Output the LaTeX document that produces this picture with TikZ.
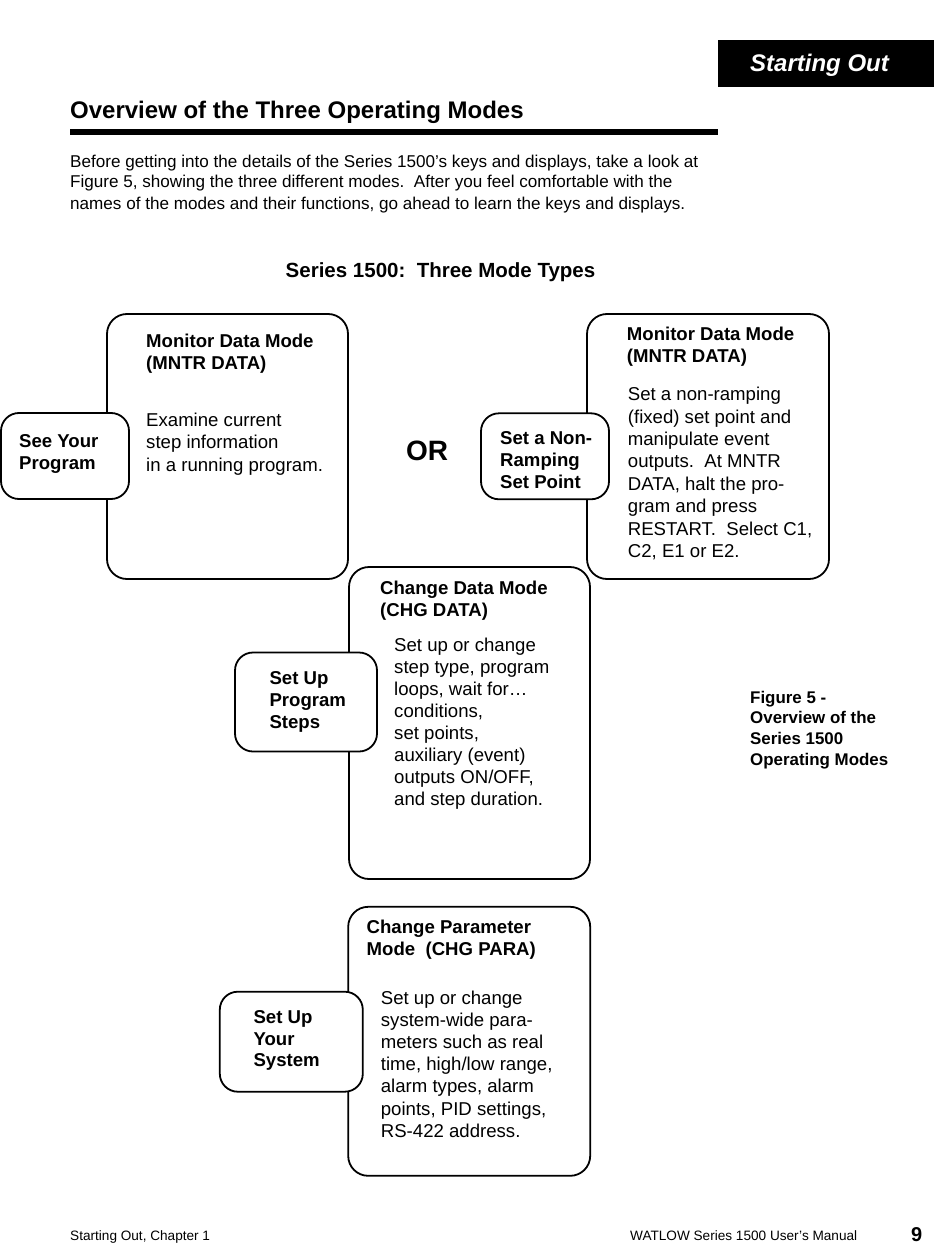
\documentclass[tikz,border=0pt]{standalone}
\usepackage{fontspec}
\setmainfont{Liberation Sans}
\tikzset{
  modebox/.style={draw, line width=1.8pt, rounded corners=20pt, inner sep=0pt},
  keybox/.style={draw, line width=1.8pt, rounded corners=18pt, fill=white, inner sep=0pt},
  boxtitle/.style={font=\bfseries\fontsize{18.6}{22}\selectfont, align=left, anchor=base west, inner sep=0pt},
  boxtext/.style={font=\fontsize{18.6}{22.2}\selectfont, align=left, anchor=base west, inner sep=0pt},
  keytext/.style={font=\bfseries\fontsize{18.6}{22}\selectfont, align=left, anchor=base west, inner sep=0pt},
}
\begin{document}
\begin{tikzpicture}[x=1pt,y=-1pt]
\useasboundingbox[fill=white] (0,0) rectangle (950,1260);

% page head (multi-line texts sit on their last baseline)
\node(tab)[fill=black, minimum width=216, minimum height=47, inner sep=0pt] at (826,63.5) {};
\node(tabtxt)[anchor=base west, inner sep=0pt, text=white, font=\bfseries\itshape\fontsize{24}{28}\selectfont] at (750,71.5) {Starting Out};
\node(head)[anchor=base west, inner sep=0pt, font=\bfseries\fontsize{24}{28}\selectfont] at (70,119) {Overview of the Three Operating Modes};
\draw[line width=6pt] (70,132) -- (718,132);
\node(intro)[anchor=base west, inner sep=0pt, align=left, font=\fontsize{17.1}{21}\selectfont] at (70,209)
  {Before getting into the details of the Series 1500's keys and displays, take a look at\\
   Figure 5, showing the three different modes.~~After you feel comfortable with the\\
   names of the modes and their functions, go ahead to learn the keys and displays.};
\node(figtitle)[anchor=base, inner sep=0pt, font=\bfseries\fontsize{20.5}{24}\selectfont] at (440.5,277) {Series 1500:~~Three Mode Types};

% mode boxes
\node(mntrA)[modebox, minimum width=241, minimum height=265] at (227.5,446.5) {};
\node(mntrB)[modebox, minimum width=242, minimum height=265] at (708,446.5) {};
\node(chgdata)[modebox, minimum width=241, minimum height=312] at (469.5,723) {};
\node(chgpara)[modebox, minimum width=242, minimum height=269] at (469.2,1041.3) {};

% key boxes
\node(seeprog)[keybox, minimum width=128, minimum height=86] at (65,456) {};
\node(setpoint)[keybox, minimum width=128, minimum height=86] at (545,456.3) {};
\node(progsteps)[keybox, minimum width=142, minimum height=99] at (306,702) {};
\node(yoursys)[keybox, minimum width=143, minimum height=100] at (291.3,1041.7) {};

% texts
\node(mntrAtitle)[boxtitle] at (146,369) {Monitor Data Mode\\(MNTR DATA)};
\node(mntrAtext)[boxtext] at (146,471.1) {Examine current\\step information\\in a running program.};
\node(seeprogtext)[keytext] at (19,469) {See Your\\Program};
\node(or)[anchor=base, inner sep=0pt, font=\bfseries\fontsize{28}{32}\selectfont] at (427,460) {OR};

\node(mntrBtitle)[boxtitle] at (626.7,362) {Monitor Data Mode\\(MNTR DATA)};
\node(mntrBtext)[boxtext, font=\fontsize{18.6}{22.4}\selectfont] at (627.7,557.5)
  {Set a non-ramping\\(fixed) set point and\\manipulate event\\outputs.~~At MNTR\\DATA, halt the pro-\\gram and press\\RESTART.~~Select C1,\\C2, E1 or E2.};
\node(setpointtext)[keytext, font=\bfseries\fontsize{18.6}{22.3}\selectfont] at (500,488.6) {Set a Non-\\Ramping\\Set Point};

\node(chgdatatitle)[boxtitle, font=\bfseries\fontsize{18.6}{22.3}\selectfont] at (380,616.6) {Change Data Mode\\(CHG DATA)};
\node(chgdatatext)[boxtext, font=\fontsize{18.6}{22.1}\selectfont] at (394,805.7)
  {Set up or change\\step type, program\\loops, wait for…\\conditions,\\set points,\\auxiliary (event)\\outputs ON/OFF,\\and step duration.};
\node(progstepstext)[keytext] at (269.3,728.3) {Set Up\\Program\\Steps};

\node(chgparatitle)[boxtitle, font=\bfseries\fontsize{18.6}{21.7}\selectfont] at (366.5,955) {Change Parameter\\Mode~~(CHG PARA)};
\node(chgparatext)[boxtext] at (380.7,1137.2)
  {Set up or change\\system-wide para-\\meters such as real\\time, high/low range,\\alarm types, alarm\\points, PID settings,\\RS-422 address.};
\node(yoursystext)[keytext, font=\bfseries\fontsize{18.6}{21.7}\selectfont] at (253.3,1066.7) {Set Up\\Your\\System};

% caption and foot
\node(caption)[anchor=base west, inner sep=0pt, align=left, font=\bfseries\fontsize{16.9}{20.7}\selectfont] at (750,765.1)
  {Figure 5 -\\Overview of the\\Series 1500\\Operating Modes};
\node(footL)[anchor=base west, inner sep=0pt, font=\fontsize{13.6}{16}\selectfont] at (70,1240) {Starting Out, Chapter 1};
\node(footR)[anchor=base west, inner sep=0pt, font=\fontsize{13.6}{16}\selectfont] at (630,1240) {WATLOW Series 1500 User's Manual};
\node(pageno)[anchor=base west, inner sep=0pt, font=\bfseries\fontsize{20}{24}\selectfont] at (911,1241) {9};
\end{tikzpicture}
\end{document}
